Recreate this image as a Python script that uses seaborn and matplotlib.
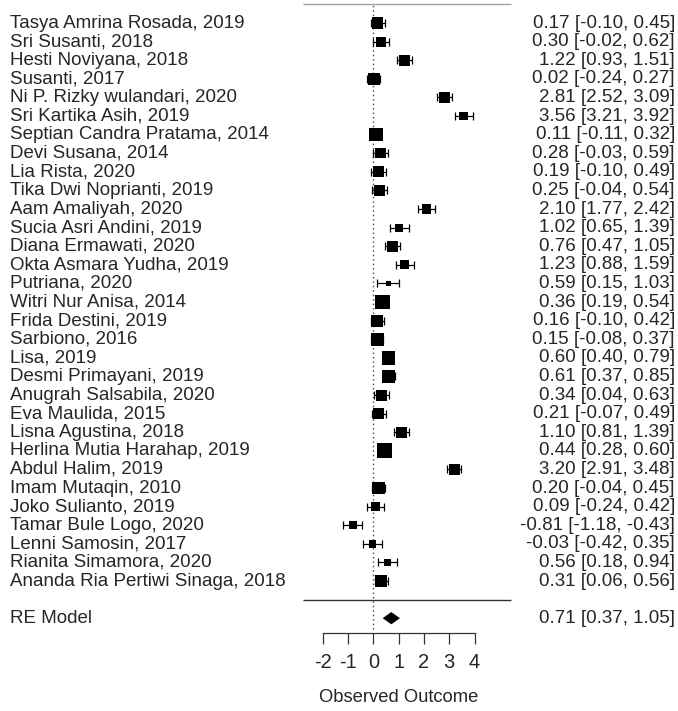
import matplotlib.pyplot as plt
import numpy as np
import pandas as pd
import seaborn as sns

studies = [
    "Tasya Amrina Rosada, 2019", "Sri Susanti, 2018", "Hesti Noviyana, 2018",
    "Susanti, 2017", "Ni P. Rizky wulandari, 2020", "Sri Kartika Asih, 2019",
    "Septian Candra Pratama, 2014", "Devi Susana, 2014", "Lia Rista, 2020",
    "Tika Dwi Noprianti, 2019", "Aam Amaliyah, 2020", "Sucia Asri Andini, 2019",
    "Diana Ermawati, 2020", "Okta Asmara Yudha, 2019", "Putriana, 2020",
    "Witri Nur Anisa, 2014", "Frida Destini, 2019", "Sarbiono, 2016",
    "Lisa, 2019", "Desmi Primayani, 2019", "Anugrah Salsabila, 2020",
    "Eva Maulida, 2015", "Lisna Agustina, 2018", "Herlina Mutia Harahap, 2019",
    "Abdul Halim, 2019", "Imam Mutaqin, 2010", "Joko Sulianto, 2019",
    "Tamar Bule Logo, 2020", "Lenni Samosin, 2017", "Rianita Simamora, 2020",
    "Ananda Ria Pertiwi Sinaga, 2018",
]
estimates = [0.17, 0.30, 1.22, 0.02, 2.81, 3.56, 0.11, 0.28, 0.19, 0.25, 2.10,
             1.02, 0.76, 1.23, 0.59, 0.36, 0.16, 0.15, 0.60, 0.61, 0.34, 0.21,
             1.10, 0.44, 3.20, 0.20, 0.09, -0.81, -0.03, 0.56, 0.31]
ci_lower = [-0.10, -0.02, 0.93, -0.24, 2.52, 3.21, -0.11, -0.03, -0.10, -0.04, 1.77,
            0.65, 0.47, 0.88, 0.15, 0.19, -0.10, -0.08, 0.40, 0.37, 0.04, -0.07,
            0.81, 0.28, 2.91, -0.04, -0.24, -1.18, -0.42, 0.18, 0.06]
ci_upper = [0.45, 0.62, 1.51, 0.27, 3.09, 3.92, 0.32, 0.59, 0.49, 0.54, 2.42,
            1.39, 1.05, 1.59, 1.03, 0.54, 0.42, 0.37, 0.79, 0.85, 0.63, 0.49,
            1.39, 0.60, 3.48, 0.45, 0.42, -0.43, 0.35, 0.94, 0.56]
re_label = "RE Model"
re_est = 0.71
re_lower = 0.37
re_upper = 1.05
x_ticks = [-2, -1, 0, 1, 2, 3, 4]
x_label = "Observed Outcome"

df = pd.DataFrame({"study": studies, "est": estimates, "lb": ci_lower, "ub": ci_upper})
k = len(df)
df["row"] = np.arange(k, 0, -1)

# point sizes as in metafor: RE weights rescaled to 0.5 - 1.5
vi = ((df["ub"] - df["lb"]) / (2 * 1.96)) ** 2
wi = 1 / vi
ybar = (wi * df["est"]).sum() / wi.sum()
q = (wi * (df["est"] - ybar) ** 2).sum()
tau2 = max(0, (q - (k - 1)) / (wi.sum() - (wi ** 2).sum() / wi.sum()))
w = 1 / (vi + tau2)
psize = 0.5 + (w - w.min()) / (w.max() - w.min())
df["area"] = (psize * 9.8 * 0.72) ** 2

sns.set_style("white")
plt.rcParams["font.family"] = ["Liberation Sans", "DejaVu Sans"]
plt.rcParams["axes.unicode_minus"] = False
fs = 13.5

fig = plt.figure(figsize=(6.78, 7.11), dpi=100)
ax = fig.add_axes([0, 0, 1, 1])
xlim = (-14.755, 12.04)
ax.set_xlim(*xlim)
ax.set_ylim(-5.99, 32.24)

# lines
ax.plot([0, 0], [-1.6, 32], color="#444444", lw=1, ls=(0, (1, 2.2)))
ax.hlines(32, -2.77, 5.44, color="#a0a0a0", lw=1)
ax.hlines(0, -2.77, 5.44, color="#333333", lw=1)

ax.errorbar(df["est"], df["row"], xerr=[df["est"] - df["lb"], df["ub"] - df["est"]],
            fmt="none", ecolor="black", elinewidth=0.9, capsize=2.6, capthick=0.9)
amin, amax = df["area"].min(), df["area"].max()
sns.scatterplot(data=df, x="est", y="row", size="area", sizes=(amin, amax),
                size_norm=(amin, amax), marker="s", color="black", linewidth=0,
                legend=False, ax=ax, zorder=3)

h = 0.33
ax.fill([re_lower, re_est, re_upper, re_est], [-1, -1 + h, -1, -1 - h], color="black", lw=0)

for _, r in df.iterrows():
    ax.text(-14.36, r["row"], r["study"], ha="left", va="center", fontsize=fs)
    ax.text(11.92, r["row"], f"{r['est']:.2f} [{r['lb']:.2f}, {r['ub']:.2f}]",
            ha="right", va="center", fontsize=fs)
ax.text(-14.36, -1, re_label, ha="left", va="center", fontsize=fs)
ax.text(11.92, -1, f"{re_est:.2f} [{re_lower:.2f}, {re_upper:.2f}]",
        ha="right", va="center", fontsize=fs)

# x axis
for s in ["left", "right", "top"]:
    ax.spines[s].set_visible(False)
ax.spines["bottom"].set_position(("data", -1.8))
ax.spines["bottom"].set_bounds(-2, 4)
ax.spines["bottom"].set_color("#333333")
ax.spines["bottom"].set_linewidth(0.9)
ax.set_xticks(x_ticks)
ax.set_yticks([])
ax.tick_params(axis="x", bottom=True, direction="out", length=7.9, width=0.9,
               color="#333333", pad=6.5, labelsize=14.5)
ax.set_xlabel(x_label, fontsize=13.2, va="center")
mid = (x_ticks[0] + x_ticks[-1]) / 2
ax.xaxis.set_label_coords((mid - xlim[0]) / (xlim[1] - xlim[0]), 1 - 697 / 711)
ax.set_ylabel("")

plt.savefig("out.png", dpi=100)
